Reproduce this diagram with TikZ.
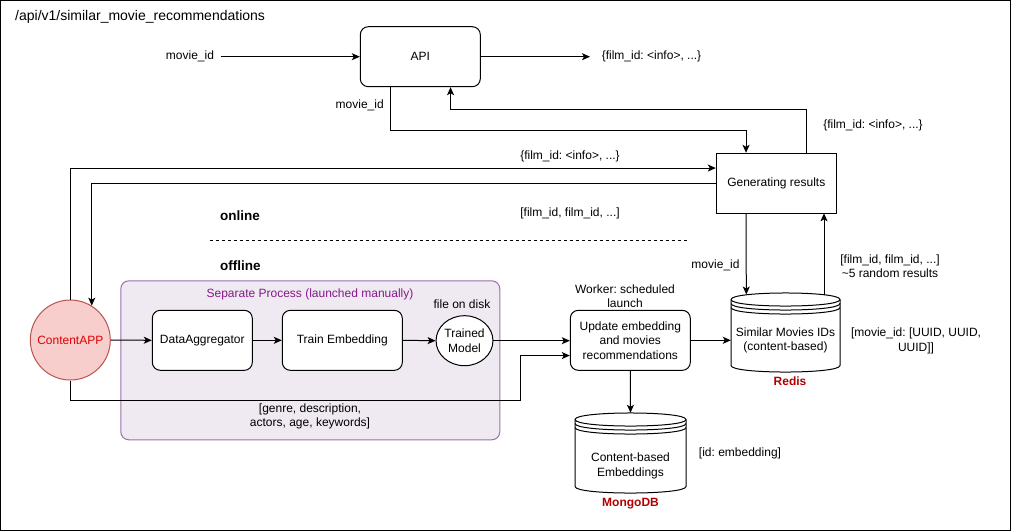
\documentclass[tikz,border=0pt]{standalone}
\usepackage{fontspec}
\setmainfont{Liberation Sans}
\usetikzlibrary{arrows.meta,shapes.geometric,calc}
\frenchspacing
\definecolor{procfill}{HTML}{EFE9F1}
\definecolor{procdraw}{HTML}{9673A6}
\definecolor{proctext}{HTML}{86198A}
\definecolor{appfill}{HTML}{F8CECC}
\definecolor{appdraw}{HTML}{B85450}
\definecolor{apptext}{HTML}{E00000}
\definecolor{dbtext}{HTML}{B20000}
\newcommand\cylshape[4]{%
  \draw[shp,fill=white] (#1,#2+6.5) -- (#1,#4-6.5) .. controls (#1,#4+2.2) and (#3,#4+2.2) .. (#3,#4-6.5)
     -- (#3,#2+6.5) .. controls (#3,#2-2.2) and (#1,#2-2.2) .. (#1,#2+6.5) -- cycle;
  \draw[shp] (#1,#2+6.5) .. controls (#1,#2+15.2) and (#3,#2+15.2) .. (#3,#2+6.5);
  \draw[shp] (#1,#2+10.5) .. controls (#1,#2+19.2) and (#3,#2+19.2) .. (#3,#2+10.5);
  \draw[shp] (#1,#2+14.5) .. controls (#1,#2+23.2) and (#3,#2+23.2) .. (#3,#2+14.5);
}
\begin{document}
\begin{tikzpicture}[x=1pt,y=-1pt,
  every node/.style={font=\fontsize{12}{14.5}\selectfont\frenchspacing},
  shp/.style={line width=1pt,draw=black},
  arr/.style={line width=1pt,-{Stealth[length=8pt,width=7pt,inset=2pt]}},
  ln/.style={line width=1pt},
  rbox/.style={draw,line width=1pt,rounded corners=8pt,fill=white,align=center,inner sep=0pt},
  sbox/.style={draw,line width=1pt,fill=white,align=center,inner sep=0pt},
  lbl/.style={align=center,inner sep=1pt},
  head/.style={font=\fontsize{13.5}{16}\selectfont\bfseries,inner sep=0pt,anchor=west},
  dbname/.style={font=\fontsize{12}{14}\selectfont\bfseries,text=dbtext,inner sep=0pt}
]
\useasboundingbox (0,0) rectangle (1011,531);
\draw[ln] (0.5,0.5) rectangle (1010.5,530.5);

\node[font=\fontsize{14}{16}\selectfont,anchor=west,inner sep=0pt] (title) at (15,17) {/api/v1/similar\_movie\_recommendations};

% process container
\node[draw=procdraw,fill=procfill,line width=1pt,rounded corners=8pt,minimum width=379pt,minimum height=159pt,inner sep=0pt] (proc) at (310.3,360.3) {};
\node[lbl,text=proctext] (proctitle) at (310,294.5) {Separate Process (launched manually)};

% main nodes
\node[rbox,minimum width=120pt,minimum height=60pt] (api) at (420.3,56.7) {API};
\node[sbox,minimum width=120pt,minimum height=60pt] (gen) at (776.3,183.3) {Generating results};
\node[circle,draw=appdraw,fill=appfill,line width=1pt,minimum size=80pt,inner sep=0pt,text=apptext] (app) at (70.3,340) {ContentAPP};
\node[rbox,minimum width=100pt,minimum height=60pt] (da) at (202.3,340.3) {DataAggregator};
\node[rbox,minimum width=120pt,minimum height=60pt] (te) at (342.3,340.3) {Train Embedding};
\node[ellipse,draw,line width=1pt,fill=white,minimum width=56pt,minimum height=50pt,inner sep=0pt,align=center] (tm) at (464.5,340.7) {Trained\\Model};
\node[rbox,minimum width=120pt,minimum height=60pt] (upd) at (630.3,340.3) {Update embedding\\and movies\\recommendations};

% datastores
\cylshape{731}{293}{840}{372}
\node[minimum width=109pt,minimum height=79pt,inner sep=0pt] (redis) at (785.5,332.5) {};
\node[lbl] (redistxt) at (785.5,340.5) {Similar Movies IDs\\(content-based)};
\node[dbname] (redisname) at (790,381) {Redis};

\cylshape{575}{413}{686}{493}
\node[minimum width=111pt,minimum height=80pt,inner sep=0pt] (mongo) at (630.5,453) {};
\node[lbl] (mongotxt) at (630.5,466) {Content-based\\Embeddings};
\node[dbname] (mongoname) at (630.5,503.5) {MongoDB};

% labels
\node[lbl] (lmid) at (190,56) {movie\_id};
\node[lbl] (lout) at (651.5,56) {\{film\_id: <info>, ...\}};
\node[lbl] (lmid2) at (359.7,105) {movie\_id};
\node[lbl] (lret) at (873,125) {\{film\_id: <info>, ...\}};
\node[lbl] (linfo) at (570,156.5) {\{film\_id: <info>, ...\}};
\node[lbl] (lids) at (570,213.5) {[film\_id, film\_id, ...]};
\node[head] (online) at (220,216) {online};
\node[head] (offline) at (220,265.5) {offline};
\node[lbl] (lmid3) at (715.5,265) {movie\_id};
\node[lbl] (lrand) at (890,266) {[film\_id, film\_id, ...]\\\textasciitilde 5 random results};
\node[lbl] (ldisk) at (462,304.5) {file on disk};
\node[lbl] (lworker) at (625,296) {Worker: scheduled\\launch};
\node[lbl] (lgenre) at (310,416.5) {[genre, description,\\actors, age, keywords]};
\node[lbl] (luuid) at (916,341) {[movie\_id: [UUID, UUID,\\UUID]]};
\node[lbl] (lemb) at (740,453) {[id: embedding]};

% online/offline divider
\coordinate (dashL) at (210,240.7);
\coordinate (dashR) at (688,240.7);
\draw[ln,dash pattern=on 3pt off 3pt] (dashL) -- (dashR);

% connectors
\coordinate (inpt) at (220.5,56.7);
\coordinate (outpt) at (590,56.7);
\draw[arr] (inpt) -- (api.west);
\draw[arr] (api.east) -- (outpt);

\coordinate (apiout) at ($(api.south west)!0.25!(api.south east)$);
\coordinate (genin) at ($(gen.north west)!0.25!(gen.north east)$);
\draw[arr] (apiout) -- ++(0,43.6) -| (genin);

\coordinate (genup) at ($(gen.north west)!0.75!(gen.north east)$);
\coordinate (apiin) at ($(api.south west)!0.75!(api.south east)$);
\draw[arr] (genup) -- ++(0,-43.3) -| (apiin);

\coordinate (genleftin) at ($(gen.north west)!0.25!(gen.south west)$);
\draw[arr] (app.north) |- (genleftin);
\draw[arr] (gen.west) -| (app.58);

\coordinate (gendown) at ($(gen.south west)!0.25!(gen.south east)$);
\coordinate (rin) at (746.3,294.5);
\draw[arr] (gendown) -- (rin);
\coordinate (rout) at (824,295.3);
\coordinate (genupin) at (824,213.3);
\draw[arr] (rout) -- (genupin);

\draw[arr] (app.east) -- (da.west);
\draw[arr] (da.east) -- (te.west);
\draw[arr] (te.east) -- (tm.west);
\draw[arr] (tm.east) -- (tm.east -| upd.west);

\coordinate (bend) at (520.5,400.3);
\coordinate (updin) at ($(upd.north west)!0.75!(upd.south west)$);
\draw[arr] (app.south) |- (bend) |- (updin);

\draw[arr] (upd.east) -- (upd.east -| redis.west);
\draw[arr] (upd.south) -- (mongo.north);
\end{tikzpicture}
\end{document}
